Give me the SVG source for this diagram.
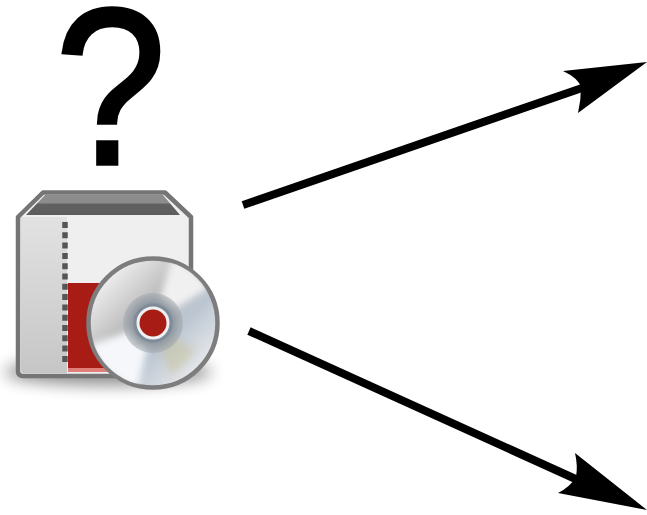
<svg xmlns="http://www.w3.org/2000/svg" width="647" height="515" viewBox="0 0 647 515">
<style>
.shaft{stroke:#000;stroke-width:8;fill:none}
.head{fill:#000}
</style>
<defs>
<filter id="soft" filterUnits="userSpaceOnUse" x="0" y="0" width="647" height="515"><feGaussianBlur stdDeviation="0.7"/></filter>
<filter id="sector" x="-30%" y="-30%" width="160%" height="160%"><feGaussianBlur stdDeviation="3.500"/></filter>
<filter id="shadowBlur" filterUnits="userSpaceOnUse" x="0" y="300" width="300" height="140"><feGaussianBlur stdDeviation="8"/></filter>
<clipPath id="discClip"><circle cx="153" cy="323" r="63"/></clipPath>
<linearGradient id="side" x1="0" y1="0" x2="0" y2="1"><stop offset="0" stop-color="#e2e2e2"/><stop offset="1" stop-color="#c6c6c6"/></linearGradient>
<linearGradient id="lid" x1="0" y1="0" x2="0" y2="1"><stop offset="0" stop-color="#8c8c8c"/><stop offset="0.4" stop-color="#8c8c8c"/><stop offset="0.45" stop-color="#626262"/><stop offset="1" stop-color="#5c5c5c"/></linearGradient>
<linearGradient id="disc" x1="0.1" y1="0.1" x2="0.9" y2="0.9"><stop offset="0" stop-color="#f6f6f6"/><stop offset="0.38" stop-color="#bdbdbd"/><stop offset="0.65" stop-color="#bcc6d2"/><stop offset="1" stop-color="#eeeeee"/></linearGradient>
<radialGradient id="hub"><stop offset="0.65" stop-color="#8f98a2"/><stop offset="1" stop-color="#a0a5aa" stop-opacity="0.5"/></radialGradient>
</defs>
<g id="question" filter="url(#soft)">
<text transform="translate(110.500 163.500) scale(0.9 1)" text-anchor="middle" font-family="Liberation Sans, Arial, sans-serif" font-size="222" fill="#000" stroke="#000" stroke-width="3.500">?</text>
</g>
<g id="package" filter="url(#soft)">
<ellipse cx="108" cy="372" rx="104" ry="13" fill="#000" opacity="0.45" filter="url(#shadowBlur)"/>
<path d="M43 192.500H165L191 217V371Q191 376 186 376H23Q18 376 18 371V217Z" fill="#efefef" stroke="#747474" stroke-width="4.500" stroke-linejoin="round"/>
<path d="M21 217H67V373H23Q21 373 21 371Z" fill="url(#side)"/>
<path d="M45 195H163L180 215H26Z" fill="url(#lid)"/>
<rect x="68" y="283" width="58" height="85" fill="#a81c14"/>
<rect x="68" y="368" width="40" height="4" fill="#e07f7a"/>
<line x1="65" y1="222" x2="65" y2="364" stroke="#555" stroke-width="5.500" stroke-dasharray="6 4.300"/>
</g>
<g id="disc-icon" filter="url(#soft)">
<circle cx="153" cy="323" r="64.500" fill="url(#disc)" stroke="#7d7d7d" stroke-width="4.500"/>
<g clip-path="url(#discClip)">
<path d="M153 323L172 258A66 66 0 0 1 208 288Z" fill="#f6f6f6" opacity="0.9" filter="url(#sector)"/>
<path d="M153 323L90 345A66 66 0 0 0 138 388Z" fill="#f8fafd" opacity="0.95" filter="url(#sector)"/>
<path d="M153 323L170 375A66 66 0 0 0 195 350Z" fill="#c8c49c" opacity="0.5" filter="url(#sector)"/>
</g>
<circle cx="153" cy="323" r="30" fill="url(#hub)"/>
<circle cx="153" cy="323" r="18" fill="#eef0f2" stroke="#7f8b98" stroke-width="3"/>
<circle cx="153" cy="323" r="13.500" fill="#a81c14"/>
</g>
<g id="connectors" filter="url(#soft)">
<line class="shaft" x1="243" y1="205" x2="585" y2="87"/>
<path class="head" d="M647 62L563 71Q578 78 581 87Q581 100 578 113Z"/>
<line class="shaft" x1="249" y1="331" x2="580" y2="481"/>
<path class="head" d="M647 510L575 453Q578 466 576 477Q570 487 558 493Z"/>
</g>
</svg>
